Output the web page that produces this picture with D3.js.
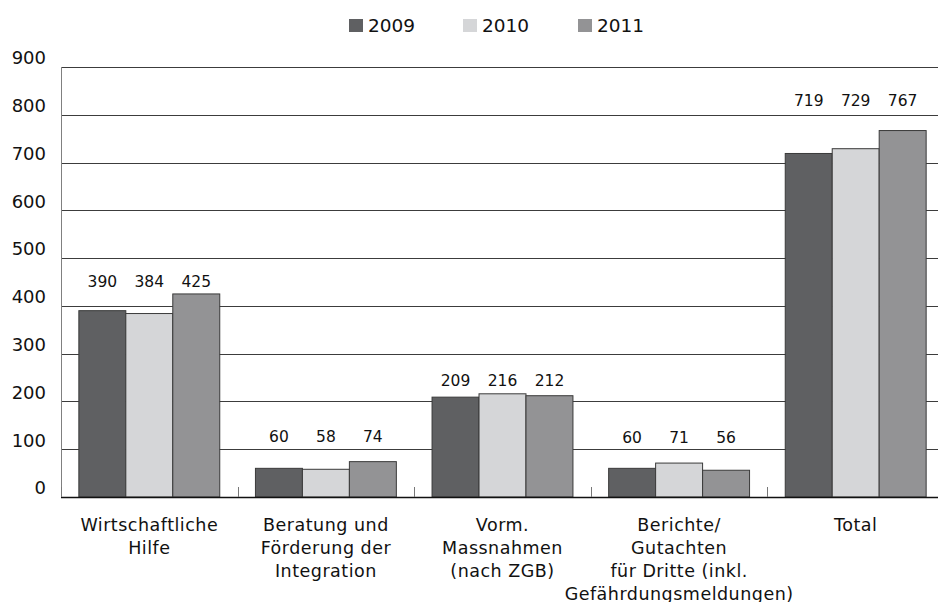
<!DOCTYPE html>
<html>
<head>
<meta charset="utf-8">
<script src="https://cdn.jsdelivr.net/npm/d3@7"></script>
<style>
  body { margin: 0; background: #fff; }
  text { font-family: "DejaVu Sans", Verdana, sans-serif; fill: #111; }
</style>
</head>
<body>
<div id="chart"></div>
<script>
// categories and series
var categories = [
  ["Wirtschaftliche", "Hilfe"],
  ["Beratung und", "Förderung der", "Integration"],
  ["Vorm.", "Massnahmen", "(nach ZGB)"],
  ["Berichte/", "Gutachten", "für Dritte (inkl.", "Gefährdungsmeldungen)"],
  ["Total"]
];
var years = ["2009", "2010", "2011"];
var v2009 = [390, 60, 209, 60, 719];
var v2010 = [384, 58, 216, 71, 729];
var v2011 = [425, 74, 212, 56, 767];
var yTicks = [0, 100, 200, 300, 400, 500, 600, 700, 800, 900];
var colors = ["#5f6062", "#d5d6d8", "#939395"];

var w = 938, h = 602;
var plotLeft = 61, plotRight = 944, plotTop = 67, plotBottom = 497;

var svg = d3.select("#chart").append("svg")
    .attr("width", w)
    .attr("height", h);

var x0 = d3.scaleBand()
    .domain(d3.range(categories.length))
    .range([plotLeft, plotRight])
    .padding(0);

var x1 = d3.scaleBand()
    .domain(years)
    .range([0, x0.bandwidth()])
    .paddingOuter(0.38);

var y = d3.scaleLinear()
    .domain([0, 900])
    .range([plotBottom, plotTop]);

var series = [v2009, v2010, v2011];

// gridlines
svg.append("g")
    .selectAll("line")
    .data(yTicks.filter(function(d) { return d > 0; }))
    .enter().append("line")
    .attr("x1", plotLeft)
    .attr("x2", w)
    .attr("y1", function(d) { return Math.round(y(d)) + 0.5; })
    .attr("y2", function(d) { return Math.round(y(d)) + 0.5; })
    .attr("stroke", "#3c3c3c")
    .attr("stroke-width", 1);

// y labels
svg.append("g")
    .selectAll("text")
    .data(yTicks)
    .enter().append("text")
    .attr("x", 46)
    .attr("y", function(d) { return y(d) - 9; })
    .attr("dy", "0.35em")
    .attr("text-anchor", "end")
    .attr("font-size", 18)
    .text(function(d) { return d; });

// y axis line
svg.append("line")
    .attr("x1", plotLeft + 0.5).attr("x2", plotLeft + 0.5)
    .attr("y1", y(900)).attr("y2", y(0))
    .attr("stroke", "#808080");

// bars
var groups = svg.append("g")
    .selectAll("g")
    .data(categories)
    .enter().append("g")
    .attr("transform", function(d, i) { return "translate(" + x0(i) + ",0)"; });

groups.selectAll("rect")
    .data(function(d, i) {
      return years.map(function(yr, k) { return {year: yr, k: k, value: series[k][i]}; });
    })
    .enter().append("rect")
    .attr("x", function(d) { return x1(d.year); })
    .attr("width", x1.bandwidth())
    .attr("y", function(d) { return y(d.value); })
    .attr("height", function(d) { return y(0) - y(d.value); })
    .attr("fill", function(d) { return colors[d.k]; })
    .attr("stroke", "#3a3a3a")
    .attr("stroke-width", 1);

// value labels (lift above the tallest bar of each group, px)
var labelLift = [12, 25, 13, 26, 30];
groups.selectAll("text.val")
    .data(function(d, i) {
      var top = d3.max(series, function(s) { return s[i]; });
      return years.map(function(yr, k) { return {year: yr, value: series[k][i], top: top, g: i}; });
    })
    .enter().append("text")
    .attr("class", "val")
    .attr("x", function(d) { return x1(d.year) + x1.bandwidth() / 2; })
    .attr("y", function(d) { return y(d.top) - labelLift[d.g]; })
    .attr("dy", "0.35em")
    .attr("text-anchor", "middle")
    .attr("font-size", 15.5)
    .text(function(d) { return d.value; });

// x axis line + ticks
svg.append("line")
    .attr("x1", plotLeft).attr("x2", w)
    .attr("y1", y(0) + 0.5).attr("y2", y(0) + 0.5)
    .attr("stroke", "#111")
    .attr("stroke-width", 1.5);

svg.append("g")
    .selectAll("line")
    .data(d3.range(categories.length))
    .enter().append("line")
    .attr("x1", function(d) { return Math.round(x0(d)) + 0.5; })
    .attr("x2", function(d) { return Math.round(x0(d)) + 0.5; })
    .attr("y1", y(0) - 10)
    .attr("y2", y(0))
    .attr("stroke", "#777");

// category labels
groups.append("text")
    .attr("y", 531)
    .attr("text-anchor", "middle")
    .attr("font-size", 17.5)
    .attr("letter-spacing", 0.5)
    .selectAll("tspan")
    .data(function(d) { return d; })
    .enter().append("tspan")
    .attr("x", x0.bandwidth() / 2)
    .attr("dy", function(d, i) { return i === 0 ? 0 : 23; })
    .text(function(d) { return d; });

// legend
var legendX = [349, 463, 578];
var legend = svg.append("g")
    .selectAll("g")
    .data(years)
    .enter().append("g")
    .attr("transform", function(d, i) { return "translate(" + legendX[i] + ",19)"; });

legend.append("rect")
    .attr("width", 14)
    .attr("height", 13)
    .attr("fill", function(d, i) { return colors[i]; });

legend.append("text")
    .attr("x", 19)
    .attr("y", 6.5)
    .attr("dy", "0.35em")
    .attr("font-size", 18.5)
    .text(function(d) { return d; });
</script>
</body>
</html>
